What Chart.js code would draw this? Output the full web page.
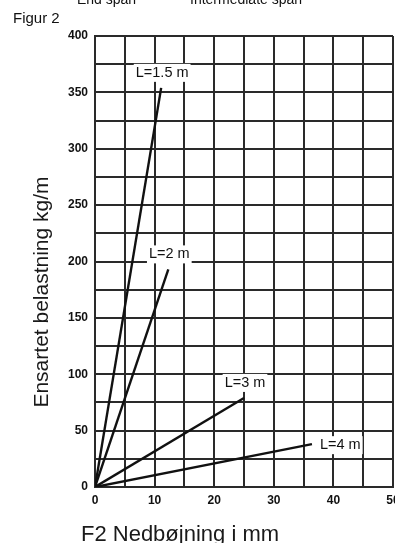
<!DOCTYPE html>
<html>
<head>
<meta charset="utf-8">
<script src="https://cdn.jsdelivr.net/npm/chart.js@4/dist/chart.umd.min.js"></script>
<style>
  html, body { margin: 0; padding: 0; background: #fff; }
  #wrap { position: relative; width: 395px; height: 543px; overflow: hidden; }
  canvas { display: block; }
</style>
</head>
<body>
<div id="wrap"><canvas id="chart" width="395" height="543"></canvas></div>
<script>
// Span lengths and the end point of each load/deflection line (line starts at the origin)
const spanNames = ['L=1.5 m', 'L=2 m', 'L=3 m', 'L=4 m'];
const endDeflection = [11.1, 12.3, 25, 36.4];   // mm
const endLoad = [354, 193, 79, 38];             // kg/m

// Labelled tick values
const xTickLabels = [0, 10, 20, 30, 40, 50];
const yTickLabels = [0, 50, 100, 150, 200, 250, 300, 350, 400];

// Text
const figureLabel = 'Figur 2';
const headerTexts = ['End span', 'Intermediate span'];
const xTitle = 'F2 Nedbøjning i mm';
const yTitle = 'Ensartet belastning kg/m';

// Where each span label sits relative to its line end
const labelSide = ['above', 'above', 'above', 'right'];

const FONT = '"Liberation Sans", Arial, Helvetica, sans-serif';
const GRID = '#2a2a2a';

const datasets = spanNames.map((name, i) => ({
  label: name,
  data: [{ x: 0, y: 0 }, { x: endDeflection[i], y: endLoad[i] }],
  showLine: true,
  borderColor: '#111',
  borderWidth: 2.4,
  pointRadius: 0,
  pointHoverRadius: 0,
  fill: false
}));

const decorations = {
  id: 'decorations',
  afterDraw(chart) {
    const ctx = chart.ctx;
    const xs = chart.scales.x, ys = chart.scales.y;
    ctx.save();

    // Span labels on white boxes
    ctx.font = '14.5px ' + FONT;
    spanNames.forEach((name, i) => {
      const px = xs.getPixelForValue(endDeflection[i]);
      const py = ys.getPixelForValue(endLoad[i]);
      const w = ctx.measureText(name).width;
      let cx, cy;
      if (labelSide[i] === 'right') {
        cx = px + 8 + w / 2;
        cy = py + 1;
      } else {
        cx = px + 1;
        cy = py - 15;
      }
      ctx.fillStyle = '#fff';
      ctx.fillRect(cx - w / 2 - 2, cy - 9, w + 4, 18);
      ctx.fillStyle = '#111';
      ctx.textAlign = 'center';
      ctx.textBaseline = 'middle';
      ctx.fillText(name, cx, cy);
    });

    // Figure label and header line cut at the top edge
    ctx.textAlign = 'left';
    ctx.textBaseline = 'alphabetic';
    ctx.fillStyle = '#111';
    ctx.font = '15px ' + FONT;
    ctx.fillText(figureLabel, 13, 23);
    ctx.font = '14px ' + FONT;
    ctx.fillText(headerTexts[0], 77, 4);
    ctx.fillText(headerTexts[1], 190, 4);

    // Axis titles
    ctx.fillStyle = '#1a1a1a';
    ctx.font = '22px ' + FONT;
    ctx.textAlign = 'center';
    ctx.fillText(xTitle, 180, 541);

    ctx.font = '21px ' + FONT;
    ctx.translate(48, 292);
    ctx.rotate(-Math.PI / 2);
    ctx.fillText(yTitle, 0, 0);
    ctx.restore();
  }
};

new Chart(document.getElementById('chart'), {
  type: 'scatter',
  data: { datasets },
  options: {
    responsive: false,
    animation: false,
    events: [],
    layout: { padding: { top: 36, left: 0, right: 2, bottom: 0 } },
    plugins: { legend: { display: false }, tooltip: { enabled: false }, title: { display: false } },
    scales: {
      x: {
        type: 'linear',
        min: 0, max: 50,
        afterFit(scale) { scale.height = 56; scale.paddingLeft = 0; scale.paddingRight = 0; },
        grid: { color: GRID, lineWidth: 2, drawTicks: false },
        border: { display: true, color: GRID, width: 2 },
        ticks: {
          stepSize: 5,
          padding: 6,
          color: '#111',
          font: { family: FONT, size: 12, weight: 'bold' },
          maxRotation: 0,
          autoSkip: false,
          callback: v => xTickLabels.includes(v) ? String(v) : ''
        }
      },
      y: {
        type: 'linear',
        min: 0, max: 400,
        afterFit(scale) { scale.width = 95; },
        grid: { color: GRID, lineWidth: 2, drawTicks: false },
        border: { display: true, color: GRID, width: 2 },
        ticks: {
          stepSize: 25,
          padding: 7,
          color: '#111',
          font: { family: FONT, size: 12, weight: 'bold' },
          autoSkip: false,
          callback: v => yTickLabels.includes(v) ? String(v) : ''
        }
      }
    }
  },
  plugins: [decorations]
});
</script>
</body>
</html>
